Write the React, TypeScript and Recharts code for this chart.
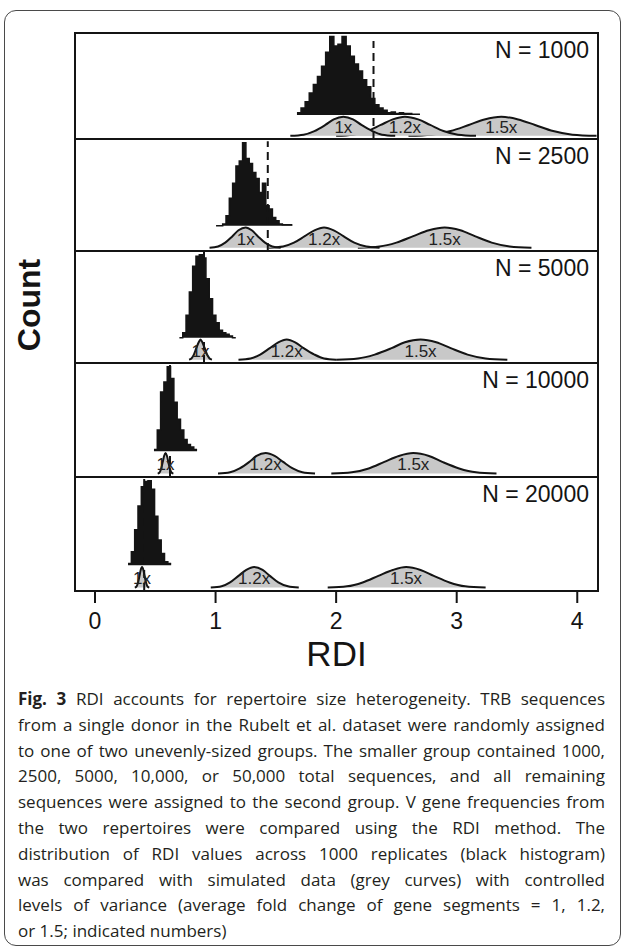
import React from "react";
import {
  ComposedChart,
  Area,
  XAxis,
  YAxis,
  ReferenceArea,
  ReferenceLine,
  ReferenceDot,
  Label,
} from "recharts";

// ---------- values ----------
const panelLabels = ["N = 1000", "N = 2500", "N = 5000", "N = 10000", "N = 20000"];
const rdiTicks = [0, 1, 2, 3, 4];

// dashed line (observed RDI) per panel
const observedRdi = [2.31, 1.433, 0.904, 0.622, 0.408];

// black histograms: first bin edge, bin width, relative counts (tallest bin = 100)
const histStart = [1.675, 1.004, 0.7, 0.489, 0.274];
const histBin = [0.034, 0.0275, 0.0275, 0.0275, 0.0275];
const counts1000 = [3, 9, 17, 28, 39, 49, 62, 80, 100, 88, 90, 100, 88, 75, 65, 56, 45, 36, 21, 13, 9, 6, 3, 4, 2, 3, 2, 2, 1, 1];
const counts2500 = [0, 0, 2, 12, 33, 51, 72, 78, 100, 81, 75, 64, 57, 40, 51, 24, 20, 10, 6, 2, 1, 1, 1];
const counts5000 = [0, 6, 27, 55, 86, 98, 100, 96, 71, 47, 27, 18, 9, 6, 4, 2, 0];
const counts10000 = [2, 25, 70, 82, 100, 86, 58, 38, 25, 14, 8, 5, 2];
const counts20000 = [2, 16, 42, 70, 93, 99, 100, 90, 58, 30, 14, 4, 2];
const histCounts = [counts1000, counts2500, counts5000, counts10000, counts20000];

// grey simulated curves (fold change 1x, 1.2x, 1.5x): x of the outline points
const foldLabels = ["1x", "1.2x", "1.5x"];
const curveShape = [0, 0.06, 0.25, 0.57, 0.86, 1, 0.86, 0.57, 0.25, 0.06, 0];
const curves1000 = [
  [1.62, 1.73, 1.82, 1.91, 1.98, 2.06, 2.14, 2.21, 2.3, 2.38, 2.49],
  [2.0, 2.14, 2.26, 2.37, 2.47, 2.57, 2.68, 2.78, 2.89, 3.01, 3.16],
  [2.6, 2.79, 2.95, 3.1, 3.23, 3.37, 3.51, 3.65, 3.8, 3.96, 4.16],
];
const curves2500 = [
  [0.95, 1.02, 1.08, 1.14, 1.19, 1.25, 1.3, 1.35, 1.41, 1.47, 1.54],
  [1.44, 1.56, 1.65, 1.74, 1.82, 1.9, 1.98, 2.06, 2.15, 2.25, 2.36],
  [2.18, 2.36, 2.5, 2.64, 2.77, 2.9, 3.03, 3.15, 3.29, 3.44, 3.62],
];
const curves5000 = [
  [0.78, 0.8, 0.82, 0.84, 0.86, 0.875, 0.89, 0.91, 0.93, 0.95, 0.97],
  [1.19, 1.29, 1.37, 1.45, 1.52, 1.59, 1.66, 1.73, 1.82, 1.9, 2.0],
  [2.0, 2.18, 2.32, 2.46, 2.57, 2.7, 2.83, 2.95, 3.09, 3.24, 3.42],
];
const curves10000 = [
  [0.52, 0.536, 0.549, 0.562, 0.573, 0.585, 0.597, 0.608, 0.621, 0.634, 0.65],
  [1.02, 1.12, 1.2, 1.28, 1.34, 1.415, 1.49, 1.56, 1.64, 1.72, 1.825],
  [1.96, 2.13, 2.27, 2.4, 2.52, 2.64, 2.77, 2.88, 3.02, 3.16, 3.33],
];
const curves20000 = [
  [0.33, 0.345, 0.357, 0.369, 0.379, 0.39, 0.401, 0.411, 0.423, 0.435, 0.45],
  [0.96, 1.05, 1.12, 1.19, 1.255, 1.32, 1.39, 1.45, 1.52, 1.6, 1.69],
  [1.93, 2.09, 2.22, 2.35, 2.47, 2.58, 2.7, 2.81, 2.94, 3.07, 3.24],
];
const curveXs = [curves1000, curves2500, curves5000, curves10000, curves20000];

const captionLines = [
  "RDI accounts for repertoire size heterogeneity. TRB sequences",
  "from a single donor in the Rubelt et al. dataset were randomly assigned",
  "to one of two unevenly-sized groups. The smaller group contained 1000,",
  "2500, 5000, 10,000, or 50,000 total sequences, and all remaining",
  "sequences were assigned to the second group. V gene frequencies from",
  "the two repertoires were compared using the RDI method. The",
  "distribution of RDI values across 1000 replicates (black histogram)",
  "was compared with simulated data (grey curves) with controlled",
  "levels of variance (average fold change of gene segments = 1, 1.2,",
  "or 1.5; indicated numbers)",
];

// ---------- layout ----------
const FONT = "'Liberation Sans', Arial, Helvetica, sans-serif";
const X_DOMAIN: [number, number] = [-0.166, 4.172];
const PLOT_LEFT = 75;
const PLOT_W = 523;
const PANEL_TOPS = [33, 139, 251, 363, 477];
const PANEL_H = [106, 112, 112, 114, 114];
const PAD = 2;
const AXIS_H = 100;
const HIST_BASE = 0.226;
const HIST_TOP = 0.967;
const CURVE_BASE = 0.03;
const CURVE_TOP = 0.21;
const DASH_TOP = [0.925, 0.98, 1, 1, 1];
const INK = "#141414";

const histTable = (i: number) => {
  const c = histCounts[i];
  const rows = c.map((v, k) => ({
    x: histStart[i] + k * histBin[i],
    y: HIST_BASE + (v / 100) * (HIST_TOP - HIST_BASE),
  }));
  rows.push({ x: histStart[i] + c.length * histBin[i], y: rows[rows.length - 1].y });
  return rows;
};

const curveTable = (xs: number[]) =>
  xs.map((x, k) => ({ x, y: CURVE_BASE + curveShape[k] * (CURVE_TOP - CURVE_BASE) }));

const RdiTick = (props: any) => {
  const { x, y, payload } = props;
  return (
    <text x={x} y={y + 24} textAnchor="middle" fontSize={23} fill={INK} fontFamily={FONT}>
      {payload.value}
    </text>
  );
};

function Panel({ i }: { i: number }) {
  const last = i === 4;
  const h = PANEL_H[i];
  const order = [2, 1, 0];
  return (
    <div style={{ position: "absolute", left: PLOT_LEFT - PAD, top: PANEL_TOPS[i] - PAD }}>
      <ComposedChart
        width={PLOT_W + 2 * PAD}
        height={h + 2 * PAD + (last ? AXIS_H : 0)}
        margin={{ top: PAD, right: PAD, bottom: PAD, left: PAD }}
      >
        <XAxis
          type="number"
          dataKey="x"
          domain={X_DOMAIN}
          allowDataOverflow
          hide={!last}
          ticks={rdiTicks}
          height={last ? AXIS_H : 0}
          tickSize={12}
          axisLine={{ stroke: INK, strokeWidth: 2 }}
          tickLine={{ stroke: INK, strokeWidth: 2 }}
          tick={<RdiTick />}
        >
          {last && (
            <Label
              value="RDI"
              position="insideBottom"
              offset={25}
              fontSize={35}
              fill={INK}
              fontFamily={FONT}
            />
          )}
        </XAxis>
        <YAxis type="number" domain={[0, 1]} hide allowDataOverflow />
        {order.map((k) => (
          <Area
            key={"c" + k}
            data={curveTable(curveXs[i][k])}
            dataKey="y"
            type="monotone"
            baseValue={CURVE_BASE}
            stroke={INK}
            strokeWidth={2}
            fill="#c8c8c8"
            fillOpacity={1}
            dot={false}
            activeDot={false}
            isAnimationActive={false}
          />
        ))}
        <Area
          data={histTable(i)}
          dataKey="y"
          type="stepAfter"
          baseValue={HIST_BASE}
          stroke={INK}
          strokeWidth={1.5}
          fill={INK}
          fillOpacity={1}
          dot={false}
          activeDot={false}
          isAnimationActive={false}
        />
        {order.map((k) => (
          <ReferenceDot
            key={"l" + k}
            x={curveXs[i][k][5]}
            y={(CURVE_BASE + CURVE_TOP) / 2 - 0.01}
            r={1}
            fillOpacity={0}
            strokeOpacity={0}
            label={{
              value: foldLabels[k],
              position: "center",
              fontSize: 17,
              fill: "#222",
              fontFamily: FONT,
            }}
          />
        ))}
        <ReferenceLine
          segment={[
            { x: observedRdi[i], y: 0 },
            { x: observedRdi[i], y: DASH_TOP[i] },
          ]}
          stroke={INK}
          strokeWidth={2}
          strokeDasharray="8 5"
        />
        <ReferenceArea
          x1={X_DOMAIN[0]}
          x2={X_DOMAIN[1]}
          y1={0}
          y2={1}
          fill="none"
          stroke={INK}
          strokeWidth={2}
          label={{
            value: panelLabels[i],
            position: "insideTopRight",
            offset: 9,
            fontSize: 23,
            fill: INK,
            fontFamily: FONT,
          }}
        />
      </ComposedChart>
    </div>
  );
}

export default function App() {
  return (
    <div
      style={{
        position: "absolute",
        left: 0,
        top: 0,
        width: 625,
        height: 949,
        background: "#fff",
        overflow: "hidden",
      }}
    >
      <div
        style={{
          position: "absolute",
          left: 4,
          top: 10,
          width: 617,
          height: 936,
          border: "1.5px solid #4a4a4a",
          borderRadius: 12,
          boxSizing: "border-box",
        }}
      />
      {[0, 1, 2, 3, 4].map((i) => (
        <Panel key={i} i={i} />
      ))}
      <div
        style={{
          position: "absolute",
          left: 29,
          top: 305,
          transform: "translate(-50%, -50%) rotate(-90deg)",
          fontFamily: FONT,
          fontWeight: 700,
          fontSize: 32,
          color: INK,
          whiteSpace: "nowrap",
        }}
      >
        Count
      </div>
      <div
        style={{
          position: "absolute",
          left: 18,
          top: 686,
          width: 587,
          fontFamily: "'Open Sans', 'Noto Sans', sans-serif",
          fontSize: 17,
          lineHeight: "25.8px",
          color: "#231f20",
        }}
      >
        {captionLines.map((line, k) => (
          <div
            key={k}
            style={{
              whiteSpace: "nowrap",
              textAlign: k === captionLines.length - 1 ? "left" : "justify",
              textAlignLast: k === captionLines.length - 1 ? "left" : "justify",
            }}
          >
            {k === 0 && <b>Fig. 3 </b>}
            {line}
          </div>
        ))}
      </div>
    </div>
  );
}
